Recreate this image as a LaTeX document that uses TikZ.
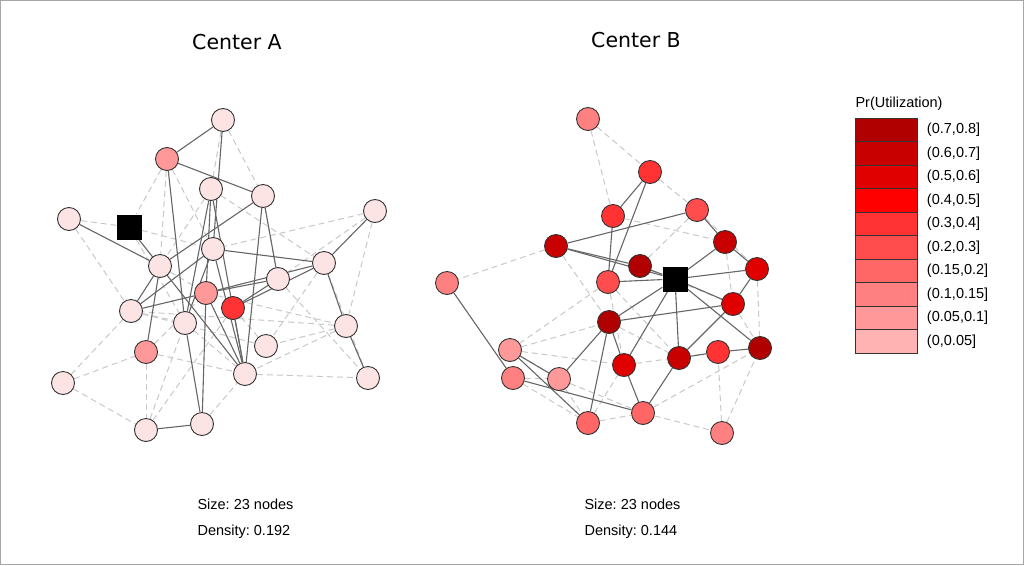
\documentclass[tikz,border=0pt]{standalone}
\usepackage{fontspec}
\setmainfont{Liberation Sans}
\newfontfamily\titlefont{DejaVu Sans}
\usetikzlibrary{backgrounds}
\frenchspacing

\definecolor{ufaint}{HTML}{FDE4E4}
\definecolor{uA}{HTML}{B00000}
\definecolor{uB}{HTML}{C80000}
\definecolor{uC}{HTML}{E00000}
\definecolor{uD}{HTML}{FF0000}
\definecolor{uE}{HTML}{FF3333}
\definecolor{uF}{HTML}{FF4C4C}
\definecolor{uG}{HTML}{FF6666}
\definecolor{uH}{HTML}{FF8080}
\definecolor{uI}{HTML}{FF9999}
\definecolor{uJ}{HTML}{FFB3B3}
\definecolor{tie}{HTML}{666666}
\definecolor{weaktie}{HTML}{C8C8C8}

\tikzset{
  vert/.style={circle, draw=black!80, line width=0.9pt, minimum size=23pt, inner sep=0pt},
  centre/.style={rectangle, fill=black, minimum size=25pt, inner sep=0pt},
  strong/.style={draw=tie, line width=1.1pt},
  weak/.style={draw=weaktie, line width=1pt, dash pattern=on 6pt off 4pt},
  legbox/.style={rectangle, draw=black!80, line width=0.9pt, minimum width=62pt, minimum height=23.5pt, inner sep=0pt},
  stat/.style={anchor=west, font=\fontsize{14.5}{16}\selectfont},
}

\begin{document}
\begin{tikzpicture}[x=1pt, y=-1pt]
  \useasboundingbox (0,0) rectangle (1024,565);
  \draw[black!35] (0.5,0.5) rectangle (1023.5,564.5);

  % Titles
  \node[font=\titlefont\fontsize{20.5}{22}\selectfont] (titleA) at (237,42) {Center A};
  \node[font=\titlefont\fontsize{20.5}{22}\selectfont] (titleB) at (636,40) {Center B};

  % Center A: nodes
  \foreach \n/\x/\y/\c in {a1/223/120/ufaint, a2/167/159/uI, a3/211/189/ufaint, a4/263/196/ufaint,
      a5/69/219/ufaint, a7/375/211/ufaint, a8/213/249/ufaint, a9/160/266/ufaint,
      a10/324/263/ufaint, a11/278/279/ufaint, a12/206/293/uI, a13/233/308/uE,
      a14/131/311/ufaint, a15/185/323/ufaint, a16/346/326/ufaint, a17/146/352/uI,
      a18/266/346/ufaint, a19/245/374/ufaint, a20/63/383/ufaint, a21/368/378/ufaint,
      a22/202/424/ufaint, a23/146/430/ufaint}
    \node[vert, fill=\c] (\n) at (\x,\y) {};
  \node[centre] (a6) at (129,227) {};

  % Center A: ties
  \begin{scope}[on background layer]
  \foreach \a/\b in {a5/a6, a5/a14, a2/a6, a2/a9, a2/a8, a1/a3, a1/a4, a4/a11, a7/a11,
      a7/a16, a7/a8, a10/a18, a10/a21, a16/a18, a16/a19, a16/a14, a19/a21, a20/a14,
      a20/a17, a20/a23, a17/a19, a17/a23, a17/a12, a22/a19, a23/a15, a18/a13, a14/a15,
      a9/a12, a6/a8, a3/a9, a3/a10, a6/a15, a18/a14, a11/a21, a12/a16, a15/a19, a23/a13}
    \draw[weak] (\a) -- (\b);
  \foreach \a/\b in {a1/a2, a1/a8, a2/a4, a2/a15, a5/a9, a6/a19, a9/a4, a8/a10,
      a3/a12, a3/a15, a3/a19, a4/a19, a4/a11, a7/a10, a10/a16, a16/a21, a10/a12,
      a10/a13, a11/a12, a11/a13, a14/a8, a14/a12, a9/a17, a9/a14, a15/a22,
      a12/a22, a22/a23, a13/a19, a12/a19, a8/a19, a8/a15}
    \draw[strong] (\a) -- (\b);
  \end{scope}

  % Center B: nodes
  \foreach \n/\x/\y/\c in {b1/588/119/uH, b2/650/172/uE, b3/613/216/uE, b4/697/210/uF,
      b5/556/246/uB, b6/725/242/uB, b7/640/266/uA, b9/757/269/uC,
      b10/608/282/uF, b11/447/283/uH, b12/733/304/uC, b13/609/322/uA,
      b14/510/350/uI, b15/624/365/uC, b16/679/358/uB, b17/718/352/uE,
      b18/760/348/uA, b19/513/378/uH, b20/559/379/uI, b21/588/423/uG,
      b22/643/413/uG, b23/722/433/uH}
    \node[vert, fill=\c] (\n) at (\x,\y) {};
  \node[centre] (b8) at (675,279) {};

  % Center B: ties
  \begin{scope}[on background layer]
  \foreach \a/\b in {b1/b2, b1/b3, b2/b4, b5/b11, b5/b13, b4/b7, b3/b6, b14/b13,
      b14/b15, b14/b20, b19/b20, b20/b22, b21/b22, b21/b15, b22/b23, b23/b17, b23/b18,
      b22/b18, b12/b18, b9/b18, b6/b12, b4/b9, b10/b15, b10/b14, b13/b16, b15/b17,
      b20/b21, b19/b21, b7/b12, b10/b16}
    \draw[weak] (\a) -- (\b);
  \foreach \a/\b in {b2/b3, b2/b10, b3/b10, b4/b5, b5/b7, b5/b8, b4/b6, b6/b8,
      b6/b9, b7/b8, b8/b9, b8/b10, b8/b12, b8/b13, b8/b15, b8/b16, b8/b18,
      b9/b12, b12/b13, b12/b16, b13/b15, b13/b20, b13/b21, b11/b19, b14/b21,
      b14/b20, b19/b22, b15/b22, b16/b22, b16/b17, b17/b18}
    \draw[strong] (\a) -- (\b);
  \end{scope}

  % Summaries
  \node[stat] (sizeA) at (194,504) {Size: 23 nodes};
  \node[stat] (densA) at (194,532) {Density: 0.192};
  \node[stat] (sizeB) at (581,504) {Size: 23 nodes};
  \node[stat] (densB) at (581,532) {Density: 0.144};

  % Legend
  \node[anchor=west, font=\fontsize{14.5}{16}\selectfont] (legtitle) at (852,104) {Pr(Utilization)};
  \foreach \c/\t [count=\i] in {uA/{(0.7,0.8]}, uB/{(0.6,0.7]}, uC/{(0.5,0.6]}, uD/{(0.4,0.5]},
      uE/{(0.3,0.4]}, uF/{(0.2,0.3]}, uG/{(0.15,0.2]}, uH/{(0.1,0.15]}, uI/{(0.05,0.1]}, uJ/{(0,0.05]}}
    \node[legbox, fill=\c, label={[font=\fontsize{14.5}{16}\selectfont, anchor=west, xshift=6pt]east:\t}] (leg\i) at (886,{106.5+23.5*\i}) {};
\end{tikzpicture}
\end{document}
